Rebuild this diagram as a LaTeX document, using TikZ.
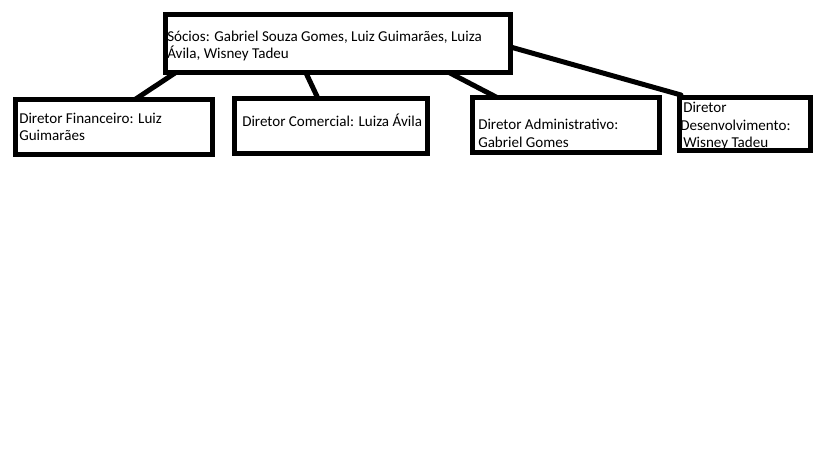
\documentclass[tikz,border=0pt]{standalone}
\usepackage{fontspec}
\setmainfont{Carlito}
\begin{document}
\begin{tikzpicture}[x=0.75pt,y=-0.75pt,
  box/.style={draw=black,line width=3.75pt,rectangle,inner sep=0pt,outer sep=0pt,minimum height=41.25pt},
  lbl/.style={anchor=base west,inner sep=0pt,font=\fontsize{11.3pt}{12.75pt}\selectfont},
  link/.style={draw=black,line width=3.75pt,line cap=round}]
\fill[white] (0,0) rectangle (819,460);
\useasboundingbox (0,0) rectangle (819,460);
% texts (drawn first so box borders sit on top)
\node[lbl] (ttop1) at (167,42) {Sócios: Gabriel Souza Gomes, Luiz Guimarães, Luiza};
\node[lbl] (ttop2) at (167,59) {Ávila, Wisney Tadeu};
\node[lbl] (t1a) at (19,124) {Diretor Financeiro: Luiz};
\node[lbl] (t1b) at (19,141) {Guimarães};
\node[lbl] (t2) at (242,127) {Diretor Comercial: Luiza Ávila};
\node[lbl] (t3a) at (478,130) {Diretor Administrativo:};
\node[lbl] (t3b) at (478,147) {Gabriel Gomes};
\node[lbl] (t4a) at (683,113) {Diretor};
\node[lbl] (t4b) at (680,131) {Desenvolvimento:};
\node[lbl] (t4c) at (683,148) {Wisney Tadeu};
% boxes
\node[box,minimum width=258.75pt,minimum height=43.875pt] (top) at (338,43.75) {};
\node[box,minimum width=147.75pt] (b1) at (114,127) {};
\node[box,minimum width=144.75pt] (b2) at (331,126) {};
\node[box,minimum width=140.25pt] (b3) at (566,125) {};
\node[box,minimum width=98.25pt,minimum height=39.75pt] (b4) at (745,124) {};
% connectors
\draw[link] (175,0 |- top.south) -- (135,0 |- b1.north);
\draw[link] (306,0 |- top.south) -- (318,0 |- b2.north);
\draw[link] (450,0 |- top.south) -- (497,0 |- b3.north);
\draw[link] (top.east |- 0,47) -- (681,95);
\end{tikzpicture}
\end{document}
